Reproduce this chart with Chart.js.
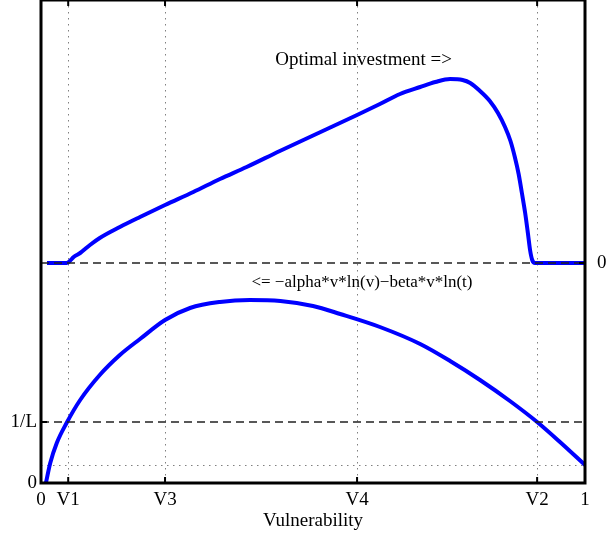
<!DOCTYPE html>
<html>
<head>
<meta charset="utf-8">
<script src="https://cdn.jsdelivr.net/npm/chart.js@4.4.1/dist/chart.umd.min.js"></script>
<style>
    html, body { margin: 0; padding: 0; background: #fff; }
    canvas { display: block; }
</style>
</head>
<body>
<canvas id="grafico" width="607" height="538"></canvas>
<script>
// eixo x: vulnerabilidade de 0 a 1
const xTickValues = [0, 0.05, 0.228, 0.581, 0.912, 1];
const xTickLabels = ['0', 'V1', 'V3', 'V4', 'V2', '1'];
const xGridValues = [0.05, 0.228, 0.581, 0.912];

// eixo y em unidades arbitrarias (0 embaixo, 483 no topo)
const yMax = 483;
const yOneOverL = 61;
const yZeroInvest = 220;
const yEndLevel = 18;

// investimento otimo
const investX = [0.011, 0.047, 0.053, 0.060, 0.072, 0.090, 0.108, 0.145, 0.182, 0.228, 0.280, 0.329, 0.378, 0.439, 0.510, 0.581, 0.623, 0.660, 0.697, 0.725, 0.752, 0.775, 0.789, 0.807, 0.825, 0.840, 0.853, 0.863, 0.871, 0.878, 0.884, 0.890, 0.895, 0.899, 0.903, 0.908, 1.0];
const investY = [220, 220, 222, 226, 230, 238, 245, 256, 266, 278, 291, 304, 316, 332, 350, 368, 379, 389, 396, 401, 404, 403, 400, 392, 382, 370, 356, 342, 326, 309, 290, 270, 250, 233, 223, 220, 220];

// -alpha*v*ln(v) - beta*v*ln(t)
const funcX = [0.009, 0.017, 0.029, 0.047, 0.072, 0.108, 0.145, 0.182, 0.228, 0.274, 0.329, 0.384, 0.440, 0.500, 0.550, 0.623, 0.697, 0.752, 0.807, 0.862, 0.912, 0.954, 1.0];
const funcY = [0, 20, 40, 60, 83, 108, 128, 144, 163, 175, 181, 183, 182, 177, 169, 156, 139, 122, 103, 82, 61, 41, 18];

const FONTE = '"Liberation Serif", "Times New Roman", serif';

const toPoints = (xs, ys) => xs.map((x, i) => ({ x: x, y: ys[i] }));

const decoracao = {
    id: 'decoracao',
    beforeDatasetsDraw(chart) {
        const ctx = chart.ctx;
        const area = chart.chartArea;
        const sx = chart.scales.x;
        const sy = chart.scales.y;
        ctx.save();
        // linhas verticais pontilhadas
        ctx.strokeStyle = '#808080';
        ctx.lineWidth = 1;
        ctx.setLineDash([1.5, 4.5]);
        xGridValues.forEach(v => {
            const px = Math.round(sx.getPixelForValue(v)) + 0.5;
            ctx.beginPath();
            ctx.moveTo(px, area.top);
            ctx.lineTo(px, area.bottom);
            ctx.stroke();
        });
        // linha pontilhada horizontal no nivel final
        const pyEnd = Math.round(sy.getPixelForValue(yEndLevel)) + 0.5;
        ctx.beginPath();
        ctx.moveTo(area.left, pyEnd);
        ctx.lineTo(area.right, pyEnd);
        ctx.stroke();
        ctx.restore();
    },
    afterDatasetsDraw(chart) {
        const ctx = chart.ctx;
        const area = chart.chartArea;
        const sx = chart.scales.x;
        const sy = chart.scales.y;
        ctx.save();

        // linhas tracejadas (1/L e zero do investimento)
        ctx.strokeStyle = '#222';
        ctx.lineWidth = 1.5;
        ctx.setLineDash([8, 5]);
        [yOneOverL, yZeroInvest].forEach(v => {
            const py = sy.getPixelForValue(v);
            ctx.beginPath();
            ctx.moveTo(area.left, py);
            ctx.lineTo(area.right, py);
            ctx.stroke();
        });
        ctx.setLineDash([]);

        // moldura
        ctx.strokeStyle = '#000';
        ctx.lineWidth = 3;
        ctx.strokeRect(area.left, area.top, area.right - area.left, area.bottom - area.top);

        // marcas para dentro
        ctx.lineWidth = 2;
        xTickValues.forEach(v => {
            const px = sx.getPixelForValue(v);
            ctx.beginPath();
            ctx.moveTo(px, area.bottom);
            ctx.lineTo(px, area.bottom - 6);
            ctx.moveTo(px, area.top);
            ctx.lineTo(px, area.top + 6);
            ctx.stroke();
        });
        [0, yOneOverL].forEach(v => {
            const py = sy.getPixelForValue(v);
            ctx.beginPath();
            ctx.moveTo(area.left, py);
            ctx.lineTo(area.left + 6, py);
            ctx.stroke();
        });
        const pyZero = sy.getPixelForValue(yZeroInvest);
        ctx.beginPath();
        ctx.moveTo(area.right, pyZero);
        ctx.lineTo(area.right - 6, pyZero);
        ctx.stroke();

        // rotulos
        ctx.fillStyle = '#000';
        ctx.font = '19px ' + FONTE;
        ctx.textBaseline = 'middle';
        ctx.textAlign = 'center';
        xTickValues.forEach((v, i) => {
            ctx.fillText(xTickLabels[i], sx.getPixelForValue(v), area.bottom + 17);
        });
        ctx.fillText('Vulnerability', (area.left + area.right) / 2, area.bottom + 38);

        ctx.textAlign = 'right';
        ctx.fillText('0', area.left - 4, sy.getPixelForValue(0));
        ctx.fillText('1/L', area.left - 4, sy.getPixelForValue(yOneOverL));
        ctx.textAlign = 'left';
        ctx.fillText('0', area.right + 12, pyZero);

        ctx.textAlign = 'center';
        ctx.fillText('Optimal investment =>', sx.getPixelForValue(0.593), sy.getPixelForValue(423));
        ctx.font = '17px ' + FONTE;
        ctx.fillText('<= \u2212alpha*v*ln(v)\u2212beta*v*ln(t)', sx.getPixelForValue(0.59), sy.getPixelForValue(200));

        ctx.restore();
    }
};

new Chart(document.getElementById('grafico'), {
    type: 'line',
    data: {
        datasets: [
            {
                label: 'Optimal investment',
                data: toPoints(investX, investY),
                borderColor: '#0000ff',
                borderWidth: 4,
                pointRadius: 0,
                cubicInterpolationMode: 'monotone',
                fill: false
            },
            {
                label: '-alpha*v*ln(v)-beta*v*ln(t)',
                data: toPoints(funcX, funcY),
                borderColor: '#0000ff',
                borderWidth: 4,
                pointRadius: 0,
                cubicInterpolationMode: 'monotone',
                fill: false
            }
        ]
    },
    options: {
        responsive: false,
        animation: false,
        layout: { padding: { left: 41, right: 22, top: 0, bottom: 55 } },
        plugins: {
            legend: { display: false },
            tooltip: { enabled: false }
        },
        scales: {
            x: { type: 'linear', min: 0, max: 1, display: false },
            y: { type: 'linear', min: 0, max: yMax, display: false }
        }
    },
    plugins: [decoracao]
});
</script>
</body>
</html>
